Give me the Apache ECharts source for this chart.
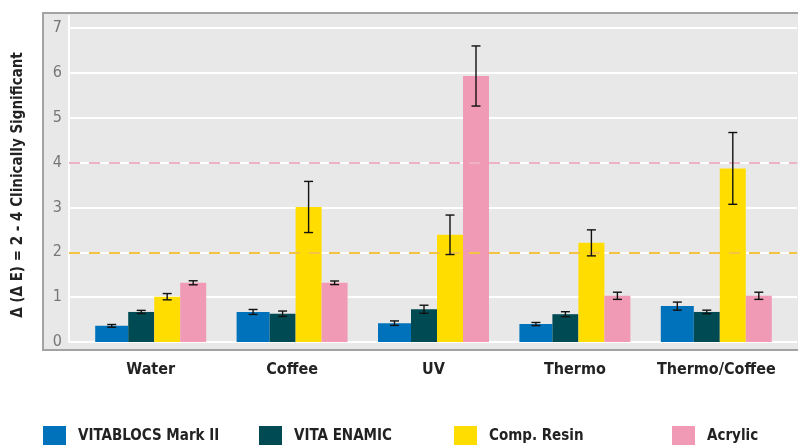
<!DOCTYPE html>
<html><head><meta charset="utf-8">
<script src="https://cdn.jsdelivr.net/npm/echarts@6/dist/echarts.min.js"></script>
<style>html,body{margin:0;padding:0;background:#fff}#c{width:798px;height:445px}</style>
</head><body><div id="c"></div>
<script>
const categories = ['Water', 'Coffee', 'UV', 'Thermo', 'Thermo/Coffee'];
const seriesNames = ['VITABLOCS Mark II', 'VITA ENAMIC', 'Comp. Resin', 'Acrylic'];
const vitablocs = [0.36, 0.67, 0.42, 0.40, 0.80];
const vitablocsErr = [0.03, 0.055, 0.05, 0.035, 0.09];
const enamic = [0.67, 0.63, 0.73, 0.62, 0.67];
const enamicErr = [0.035, 0.06, 0.09, 0.055, 0.04];
const resin = [1.01, 3.01, 2.39, 2.21, 3.87];
const resinErr = [0.07, 0.57, 0.44, 0.29, 0.80];
const acrylic = [1.32, 1.32, 5.93, 1.03, 1.03];
const acrylicErr = [0.045, 0.04, 0.67, 0.08, 0.08];
const yTicks = [0, 1, 2, 3, 4, 5, 6, 7];
const thresholds = [2, 4];

const colors = ['#0072bc', '#004b53', '#ffdd00', '#f19ab6'];
const barWidths = [33, 26, 26, 26];
const values = [vitablocs, enamic, resin, acrylic];
const errs = [vitablocsErr, enamicErr, resinErr, acrylicErr];
const FONT = '"Liberation Sans Narrow", "DejaVu Sans Condensed", "Roboto Condensed", sans-serif';

const total = barWidths.reduce((a, b) => a + b, 0);
const offsets = [];
let acc = -total / 2;
barWidths.forEach(w => { offsets.push(acc + w / 2); acc += w; });

const chart = echarts.init(document.getElementById('c'));
const series = [];
series.push({
  type: 'line', xAxisIndex: 1, yAxisIndex: 1, data: [], silent: true, z: 1,
  markLine: {
    silent: true, symbol: 'none', label: {show: false},
    data: [
      {yAxis: thresholds[0], lineStyle: {color: '#f5c344', width: 2, type: [11, 9]}},
      {yAxis: thresholds[1], lineStyle: {color: '#efb2c5', width: 2, type: [11, 9]}}
    ]
  }
});
values.forEach((vals, i) => {
  series.push({
    name: seriesNames[i], type: 'bar', xAxisIndex: 0, yAxisIndex: 0,
    data: vals, barWidth: barWidths[i], barGap: '0%', z: 3,
    itemStyle: {color: colors[i]}
  });
});
values.forEach((vals, i) => {
  series.push({
    type: 'custom', xAxisIndex: 0, yAxisIndex: 0, z: 5, silent: true,
    data: vals.map((v, k) => [k, v, errs[i][k]]),
    renderItem: function (params, api) {
      const k = api.value(0), v = api.value(1), e = api.value(2);
      const top = api.coord([k, v + e]);
      const bot = api.coord([k, v - e]);
      const x = top[0] + offsets[i];
      const cap = 4.5;
      const st = {stroke: '#111', lineWidth: 1.4};
      return {type: 'group', children: [
        {type: 'line', shape: {x1: x, y1: top[1], x2: x, y2: bot[1]}, style: st},
        {type: 'line', shape: {x1: x - cap, y1: top[1], x2: x + cap, y2: top[1]}, style: st},
        {type: 'line', shape: {x1: x - cap, y1: bot[1], x2: x + cap, y2: bot[1]}, style: st}
      ]};
    }
  });
});

const legendLefts = [43, 259, 454, 672];
const legends = seriesNames.map((n, i) => ({
  data: [{name: n, icon: 'rect'}], left: legendLefts[i], top: 426, padding: 0,
  itemWidth: 23, itemHeight: 20, selectedMode: false,
  textStyle: {fontFamily: FONT, fontWeight: 'bold', fontSize: 15, color: '#222', padding: [0, 0, 0, 7]}
}));

chart.setOption({
  animation: false,
  backgroundColor: '#fff',
  graphic: [{type: 'rect', z: -10, shape: {x: 43, y: 13, width: 757, height: 337},
    style: {fill: '#e8e8e8', stroke: '#a3a3a3', lineWidth: 2}}],
  legend: legends,
  grid: [
    {left: 80, right: 11, top: 28, bottom: 103},
    {left: 69, right: 1, top: 28, bottom: 103},
    {left: 69, right: 1, top: 16, bottom: 103}
  ],
  xAxis: [
    {type: 'category', gridIndex: 0, data: categories,
      axisLine: {show: false}, axisTick: {show: false},
      axisLabel: {interval: 0, margin: 20, fontFamily: FONT, fontWeight: 'bold', fontSize: 16, color: '#222'}},
    {type: 'value', gridIndex: 1, show: false, min: 0, max: 1},
    {type: 'value', gridIndex: 2, show: false, min: 0, max: 1}
  ],
  yAxis: [
    {type: 'value', gridIndex: 0, min: 0, max: 7, interval: 1, show: false},
    {type: 'value', gridIndex: 1, min: yTicks[0], max: yTicks[yTicks.length - 1], interval: 1,
      axisLine: {show: false}, axisTick: {show: false},
      splitLine: {show: true, lineStyle: {color: '#ffffff', width: 2}},
      axisLabel: {margin: 7, fontFamily: FONT, fontSize: 16, color: '#777'},
      name: 'Δ (Δ E) = 2 - 4 Clinically Significant', nameLocation: 'middle', nameGap: 43,
      nameTextStyle: {fontFamily: FONT, fontWeight: 'bold', fontSize: 15, color: '#222'}},
    {type: 'value', gridIndex: 2, min: 0, max: 1,
      axisLine: {show: true, lineStyle: {color: '#ffffff', width: 2}},
      axisTick: {show: false}, axisLabel: {show: false}, splitLine: {show: false}}
  ],
  series: series
});
</script></body></html>
